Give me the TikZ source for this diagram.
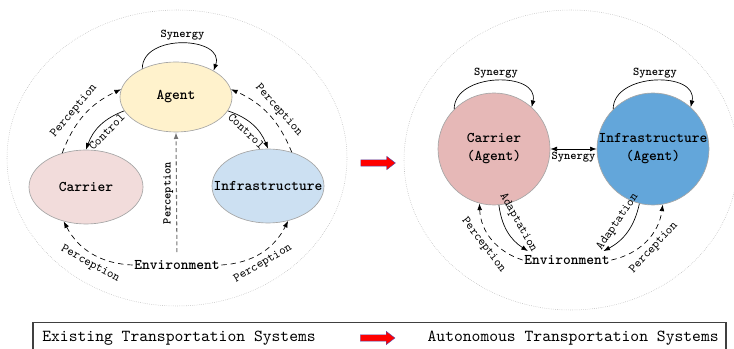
\documentclass[tikz,border=0pt]{standalone}
\usepackage{fontspec}
\setmainfont{lmmono10-regular}[Extension=.otf,BoldFont=lmmonolt10-bold]
\usetikzlibrary{shapes.geometric,shapes.arrows,arrows.meta}
\definecolor{agentfill}{RGB}{255,242,204}
\definecolor{carrierfill}{RGB}{242,220,219}
\definecolor{infrafill}{RGB}{204,224,242}
\definecolor{carrieragent}{RGB}{230,184,183}
\definecolor{infraagent}{RGB}{99,166,218}
\begin{document}
\begin{tikzpicture}[x=0.75pt,y=0.75pt,>={Latex[length=5pt,width=3.6pt]},line width=0.5pt,
	unit/.style={ellipse,draw=gray!70,inner sep=0pt,font=\fontsize{11.1}{13.5}\selectfont\bfseries},
	agentunit/.style={circle,draw=gray!70,minimum size=84pt,inner sep=-1pt,align=center,font=\fontsize{11.1}{13.5}\selectfont\bfseries},
	envtext/.style={inner sep=1pt,font=\fontsize{11.1}{13.5}\selectfont\bfseries},
	tag/.style={inner sep=3.5pt,font=\fontsize{9.3}{10}\selectfont},
	boldtag/.style={inner sep=2pt,font=\fontsize{8.9}{10}\selectfont\bfseries},
	flow/.style={->},
	sense/.style={->,dash pattern=on 4pt off 3pt},
	redarrow/.style={single arrow,draw=blue!40!gray,line width=0.3pt,fill=red,minimum height=26pt,inner xsep=0pt,inner ysep=2.25pt,single arrow head extend=2.6pt,single arrow tip angle=75}]
	\useasboundingbox (0,0) rectangle (734,349);
	\draw [gray!60,densely dotted,line width=0.4pt] (177,191) ellipse [x radius=170,y radius=148];
	\draw [gray!60,densely dotted,line width=0.4pt] (571,189) ellipse [x radius=167,y radius=150];
	% existing systems
	\node [unit,minimum width=84pt,minimum height=52.5pt,fill=agentfill] at (176,252) (Agent) {Agent};
	\node [unit,minimum width=85.5pt,minimum height=55.5pt,fill=carrierfill] at (86,162) (Carrier) {Carrier};
	\node [unit,minimum width=84pt,minimum height=55.5pt,inner xsep=-12pt,fill=infrafill] at (268,163) (Infra) {Infrastructure};
	\node [envtext] at (177,84) (EnvL) {Environment};
	\draw [flow] (Agent.140) .. controls +(0,36) and +(12,34) .. node [boldtag,pos=0.5,above] {Synergy} (Agent.35);
	\draw [flow] (Agent.195) to [bend right=25] node [tag,sloped,below,pos=0.5] {Control} (Carrier.north);
	\draw [flow] (Agent.345) to [bend left=25] node [tag,sloped,below,pos=0.5] {Control} (Infra.north);
	\draw [sense] (Carrier.125) to [bend left=22] node [tag,sloped,above,pos=0.45] {Perception} (Agent.172);
	\draw [sense] (Infra.55) to [bend right=22] node [tag,sloped,above,pos=0.45] {Perception} (Agent.8);
	\draw [->,gray!90!black,line width=0.8pt,dash pattern=on 3pt off 2pt,shorten <=5pt] (EnvL.north) -- node [boldtag,text=black,rotate=90,anchor=south,pos=0.52] {Perception} (Agent.south);
	\draw [sense] (EnvL.west) to [bend left=30] node [tag,sloped,below,pos=0.45] {Perception} (Carrier.237);
	\draw [sense] (EnvL.east) to [bend right=30] node [tag,sloped,below,pos=0.45] {Perception} (Infra.300);
	\node [redarrow] at (376,186) (Shift) {};
	% autonomous systems
	\node [agentunit,fill=carrieragent] at (494,200) (CarrierA) {Carrier\\(Agent)};
	\node [agentunit,fill=infraagent] at (653,200) (InfraA) {Infrastructure\\(Agent)};
	\node [envtext] at (567,89) (EnvR) {Environment};
	\draw [flow] (CarrierA.135) .. controls +(0,37) and +(8,36) .. node [boldtag,pos=0.5,above] {Synergy} (CarrierA.48);
	\draw [flow] (InfraA.135) .. controls +(0,37) and +(8,36) .. node [boldtag,pos=0.5,above] {Synergy} (InfraA.48);
	\draw [<->] (CarrierA.east) -- node [boldtag,below] {Synergy} (InfraA.west);
	\draw [flow] (CarrierA.275) to [bend right=25] node [tag,sloped,above,pos=0.45,inner ysep=6pt] {Adaptation} ([xshift=4pt,yshift=2pt]EnvR.north west);
	\draw [sense] (EnvR.west) to [bend left=35] node [tag,sloped,below,pos=0.5] {Perception} (CarrierA.255);
	\draw [flow] (InfraA.256) to [bend left=25] node [tag,sloped,above,pos=0.45,inner ysep=6pt] {Adaptation} ([xshift=-6pt,yshift=2pt]EnvR.north east);
	\draw [sense] (EnvR.east) to [bend right=35] node [tag,sloped,below,pos=0.5] {Perception} (InfraA.280);
	% legend
	\draw [black!75,line width=1pt] (33,-5) rectangle (726,26.5);
	\node [anchor=west,inner sep=0pt,font=\fontsize{12.6}{14}\selectfont] at (42,11) (Existing) {Existing Transportation Systems};
	\node [redarrow] at (375.5,11) (Legend) {};
	\node [anchor=east,inner sep=0pt,font=\fontsize{12.6}{14}\selectfont] at (719,11) (Autonomous) {Autonomous Transportation Systems};
\end{tikzpicture}
\end{document}
